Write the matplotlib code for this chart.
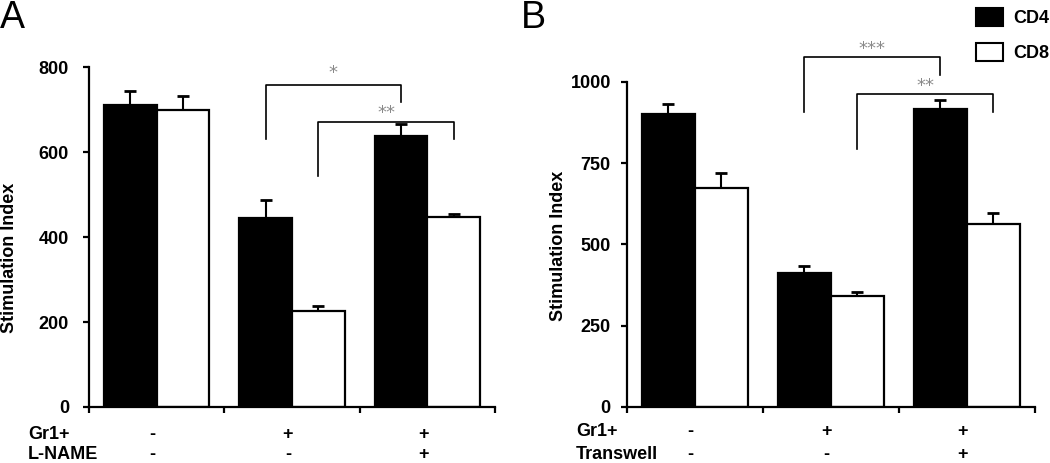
import matplotlib.pyplot as plt
from matplotlib.patches import Patch
from matplotlib.transforms import blended_transform_factory

plt.rcParams['font.family'] = ['Liberation Sans', 'DejaVu Sans']

# panel A
a_cd4 = [712, 445, 638]
a_cd4_err = [31, 43, 27]
a_cd8 = [700, 226, 447]
a_cd8_err = [32, 12, 8]
a_rows = ['Gr1+', 'L-NAME']
a_signs = [['-', '+', '+'], ['-', '-', '+']]
a_yticks = [0, 200, 400, 600, 800]

# panel B
b_cd4 = [900, 411, 915]
b_cd4_err = [31, 23, 29]
b_cd8 = [674, 342, 563]
b_cd8_err = [45, 11, 33]
b_rows = ['Gr1+', 'Transwell']
b_signs = [['-', '+', '+'], ['-', '-', '+']]
b_yticks = [0, 250, 500, 750, 1000]

# brackets: (x_left, x_right, top, left_leg_bottom, right_leg_bottom, stars, star_y)
a_brackets = [(0.805, 1.805, 759, 632, 717, '*', 787),
              (1.195, 2.195, 672, 543, 630, '**', 691)]
b_brackets = [(0.805, 1.805, 1077, 908, 1021, '***', 1100),
              (1.195, 2.195, 961, 792, 908, '**', 987)]

groups = [0, 1, 2]
w = 0.39


def draw_panel(ax, cd4, cd4_err, cd8, cd8_err, ymax, yticks, rows, signs,
               brackets, row_x, row_y, tick_pad):
    x4 = [g - w / 2 for g in groups]
    x8 = [g + w / 2 for g in groups]
    ax.bar(x4, cd4, w, color='black', edgecolor='black', linewidth=1.6, zorder=2)
    ax.bar(x8, cd8, w, color='white', edgecolor='black', linewidth=1.6, zorder=2)
    ax.errorbar(x4, cd4, yerr=[[0] * 3, cd4_err], fmt='none', ecolor='black',
                elinewidth=1.5, capsize=4, capthick=2, zorder=1)
    ax.errorbar(x8, cd8, yerr=[[0] * 3, cd8_err], fmt='none', ecolor='black',
                elinewidth=1.5, capsize=4, capthick=2, zorder=1)

    ax.set_xlim(-0.5, 2.5)
    ax.set_ylim(0, ymax)
    ax.set_yticks(yticks)
    ax.set_xticks([-0.5, 0.5, 1.5, 2.5])
    ax.set_xticklabels([])
    for s in ['top', 'right']:
        ax.spines[s].set_visible(False)
    for s in ['left', 'bottom']:
        ax.spines[s].set_linewidth(1.6)
    ax.tick_params(axis='y', length=4, width=1.6, pad=tick_pad, labelsize=13)
    ax.tick_params(axis='x', length=4, width=1.6)
    for lab in ax.get_yticklabels():
        lab.set_fontweight('bold')

    for xl, xr, top, lb, rb, stars, sy in brackets:
        ax.plot([xl, xl, xr, xr], [lb, top, top, rb], color='black', lw=1.2,
                clip_on=False)
        ax.text((xl + xr) / 2, sy, stars, ha='center', va='center',
                fontsize=13, color='#8a8a8a', fontfamily='DejaVu Sans')

    trans = blended_transform_factory(ax.transData, ax.transAxes)
    for i, row in enumerate(rows):
        ax.text(row_x, row_y[i], row, transform=ax.transAxes, ha='left',
                va='center', fontsize=13, fontweight='bold')
        for g, sgn in zip(groups, signs[i]):
            ax.text(g - 0.03, row_y[i], sgn, transform=trans, ha='center',
                    va='center', fontsize=13, fontweight='bold')


fig = plt.figure(figsize=(10.5, 4.63), dpi=100)
ax1 = fig.add_axes([0.0848, 0.121, 0.3866, 0.734])
ax2 = fig.add_axes([0.5969, 0.121, 0.3888, 0.7024])

draw_panel(ax1, a_cd4, a_cd4_err, a_cd8, a_cd8_err, 800, a_yticks, a_rows,
           a_signs, a_brackets, -0.15, [-0.082, -0.141], 10.5)
draw_panel(ax2, b_cd4, b_cd4_err, b_cd8, b_cd8_err, 1000, b_yticks, b_rows,
           b_signs, b_brackets, -0.124, [-0.076, -0.146], 7.5)

ax1.set_ylabel('Stimulation Index', fontsize=13, fontweight='bold')
ax1.yaxis.set_label_coords(-0.175, 0.44)
ax2.set_ylabel('Stimulation Index', fontsize=13, fontweight='bold')
ax2.yaxis.set_label_coords(-0.146, 0.495)

fig.text(0.0, 1.0, 'A', fontsize=27, ha='left', va='top')
fig.text(0.496, 1.0, 'B', fontsize=27, ha='left', va='top')

handles = [Patch(facecolor='black', edgecolor='black', linewidth=1.5),
           Patch(facecolor='white', edgecolor='black', linewidth=1.5)]
fig.legend(handles, ['CD4', 'CD8'], loc='upper right',
           bbox_to_anchor=(1.015, 1.017), frameon=False,
           prop={'size': 13, 'weight': 'bold'}, handlelength=1.5,
           handleheight=1.1, labelspacing=0.9, handletextpad=0.6)

fig.savefig('out.png', dpi=100)
